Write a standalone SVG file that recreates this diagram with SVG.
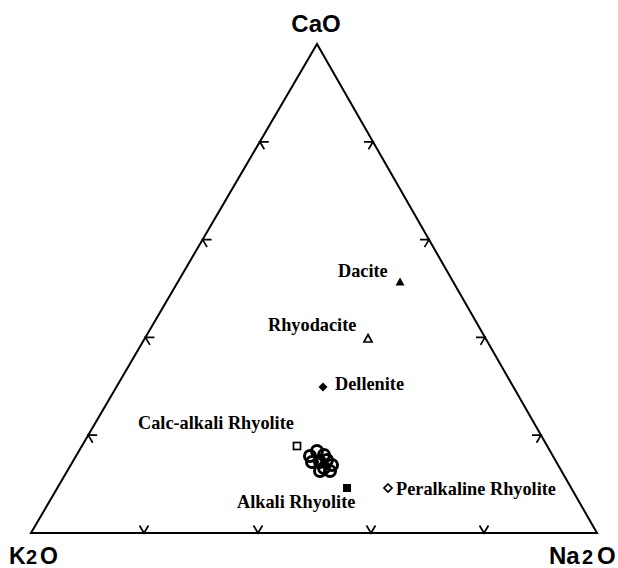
<svg xmlns="http://www.w3.org/2000/svg" width="618" height="568" viewBox="0 0 618 568">
  <style>
    .frame { fill: none; stroke: #000; stroke-width: 2; stroke-linejoin: miter; }
    .tick { fill: none; stroke: #000; stroke-width: 1.7; }
    .axis { font-family: "Liberation Sans", Arial, sans-serif; font-weight: bold; fill: #000; }
    .lbl { font-family: "Liberation Serif", "Times New Roman", serif; font-weight: bold; font-size: 18.3px; fill: #000; }
    .filled { fill: #000; stroke: none; }
    .open { fill: #fff; stroke: #000; stroke-width: 1.7; }
    .circ { fill: none; stroke: #000; stroke-width: 3; }
  </style>
  <defs>
    <path id="tb" class="tick" d="M-4.5,-7.5 L0,0 L4.5,-7.5"/>
    <path id="tl" class="tick" d="M9,0 L0,0 L4.5,7.5"/>
    <path id="tr" class="tick" d="M-9,0 L0,0 L-4.5,7.5"/>
  </defs>

  <g id="triangle">
    <polygon class="frame" points="317,44 31,533 597,533"/>
  </g>

  <g id="ticks">
    <use href="#tb" x="144" y="533"/>
    <use href="#tb" x="258" y="533"/>
    <use href="#tb" x="371" y="533"/>
    <use href="#tb" x="484" y="533"/>
    <use href="#tl" x="88.2" y="435.2"/>
    <use href="#tl" x="145.4" y="337.4"/>
    <use href="#tl" x="202.6" y="239.6"/>
    <use href="#tl" x="259.8" y="141.8"/>
    <use href="#tr" x="373" y="141.8"/>
    <use href="#tr" x="429" y="239.6"/>
    <use href="#tr" x="485" y="337.4"/>
    <use href="#tr" x="541" y="435.2"/>
  </g>

  <g id="axis-CaO">
    <text class="axis" x="316" y="32" font-size="24" text-anchor="middle">CaO</text>
  </g>
  <g id="axis-K2O">
    <text class="axis" y="564" font-size="23"><tspan x="9">K</tspan><tspan x="26" font-size="20">2</tspan><tspan x="40">O</tspan></text>
  </g>
  <g id="axis-Na2O">
    <text class="axis" y="564" font-size="24"><tspan x="549">Na</tspan><tspan x="582" font-size="20">2</tspan><tspan x="597">O</tspan></text>
  </g>

  <g id="dacite">
    <polygon class="filled" points="400,277.5 404.5,285.5 395.5,285.5"/>
    <text class="lbl" x="338" y="277">Dacite</text>
  </g>
  <g id="rhyodacite">
    <polygon class="open" points="368,334.5 372,342 364,342"/>
    <text class="lbl" x="268" y="331">Rhyodacite</text>
  </g>
  <g id="dellenite">
    <polygon class="filled" points="323,382.5 327.5,387 323,391.5 318.5,387"/>
    <text class="lbl" x="335" y="390">Dellenite</text>
  </g>
  <g id="calc-alkali-rhyolite">
    <rect class="open" x="293.5" y="442.5" width="7" height="7"/>
    <text class="lbl" x="138" y="429">Calc-alkali Rhyolite</text>
  </g>
  <g id="samples">
    <circle class="circ" cx="317" cy="451" r="5.5"/>
    <circle class="circ" cx="310" cy="456" r="5.5"/>
    <circle class="circ" cx="324" cy="455" r="5.5"/>
    <circle class="circ" cx="312" cy="462" r="5.5"/>
    <circle class="circ" cx="320" cy="462" r="5.5"/>
    <circle class="circ" cx="327" cy="460" r="5.5"/>
    <circle class="circ" cx="332" cy="465" r="5.5"/>
    <circle class="circ" cx="324" cy="468" r="5.5"/>
    <circle class="circ" cx="330" cy="471" r="5.5"/>
    <circle class="circ" cx="320" cy="471" r="5.5"/>
  </g>
  <g id="alkali-rhyolite">
    <rect class="filled" x="343" y="484" width="8" height="8"/>
    <text class="lbl" x="237" y="508">Alkali Rhyolite</text>
  </g>
  <g id="peralkaline-rhyolite">
    <polygon class="open" points="388,484 392,488 388,492 384,488"/>
    <text class="lbl" x="396" y="495">Peralkaline Rhyolite</text>
  </g>
</svg>
